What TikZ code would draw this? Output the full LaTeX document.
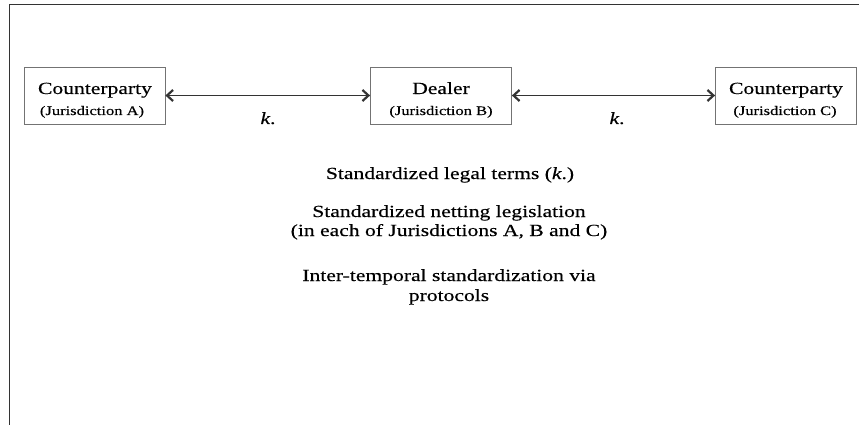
\documentclass[tikz,border=0pt]{standalone}
\usepackage{fontspec}
\setmainfont{Liberation Serif}[FakeStretch=1.27, FakeBold=0.35]
\usetikzlibrary{arrows.meta}

\newcommand{\bigsz}{\fontsize{17}{20}\selectfont}
\newcommand{\smallsz}{\fontsize{13}{15}\selectfont}
\newcommand{\kterm}{\textit{k}.}

\tikzset{
  barb/.tip={Straight Barb[length=6pt,width=11pt,line width=2.2pt]},
  party/.style={draw=black!55, line width=0.8pt, minimum width=141pt,
                minimum height=57pt, inner sep=0pt},
  title/.style={anchor=base, inner sep=0pt, font=\bigsz},
  sub/.style={anchor=base, inner sep=0pt, font=\smallsz},
  link/.style={line width=0.7pt, black!80, barb-barb},
  note/.style={anchor=base, inner sep=0pt, font=\bigsz},
  frame/.style={line width=1pt, black!80}
}

\begin{document}
\begin{tikzpicture}[x=1pt, y=-1pt]
  \useasboundingbox (0,0) rectangle (859,425);

  % frame lines along the top and left edges
  \coordinate (fl) at (9,425);
  \coordinate (fc) at (9,5);
  \coordinate (fr) at (859,5);
  \draw[frame] (fl) -- (fc) -- (fr);

  % the three parties
  \node[party] (a) at (94.5,95.5) {};
  \node[party] (d) at (441,95.5) {};
  \node[party] (c) at (786,95.5) {};

  \node[title] (at) at (95,94) {Counterparty};
  \node[sub]   (as) at (92,115) {(Jurisdiction A)};
  \node[title] (dt) at (441,94) {Dealer};
  \node[sub]   (ds) at (441,115) {(Jurisdiction B)};
  \node[title] (ct) at (786,94) {Counterparty};
  \node[sub]   (cs) at (785,115) {(Jurisdiction C)};

  % bilateral contracts
  \draw[link] (a.east) -- (d.west);
  \draw[link] (d.east) -- (c.west);
  \node[note] (k1) at (268,124) {\kterm};
  \node[note] (k2) at (617,124) {\kterm};

  % layers of standardization
  \node[note] (t1) at (450,179) {Standardized legal terms (\kterm)};
  \node[note] (t2) at (449,217) {Standardized netting legislation};
  \node[note] (t3) at (449,236) {(in each of Jurisdictions A, B and C)};
  \node[note] (t4) at (449,281) {Inter-temporal standardization via};
  \node[note] (t5) at (449,301) {protocols};
\end{tikzpicture}
\end{document}
